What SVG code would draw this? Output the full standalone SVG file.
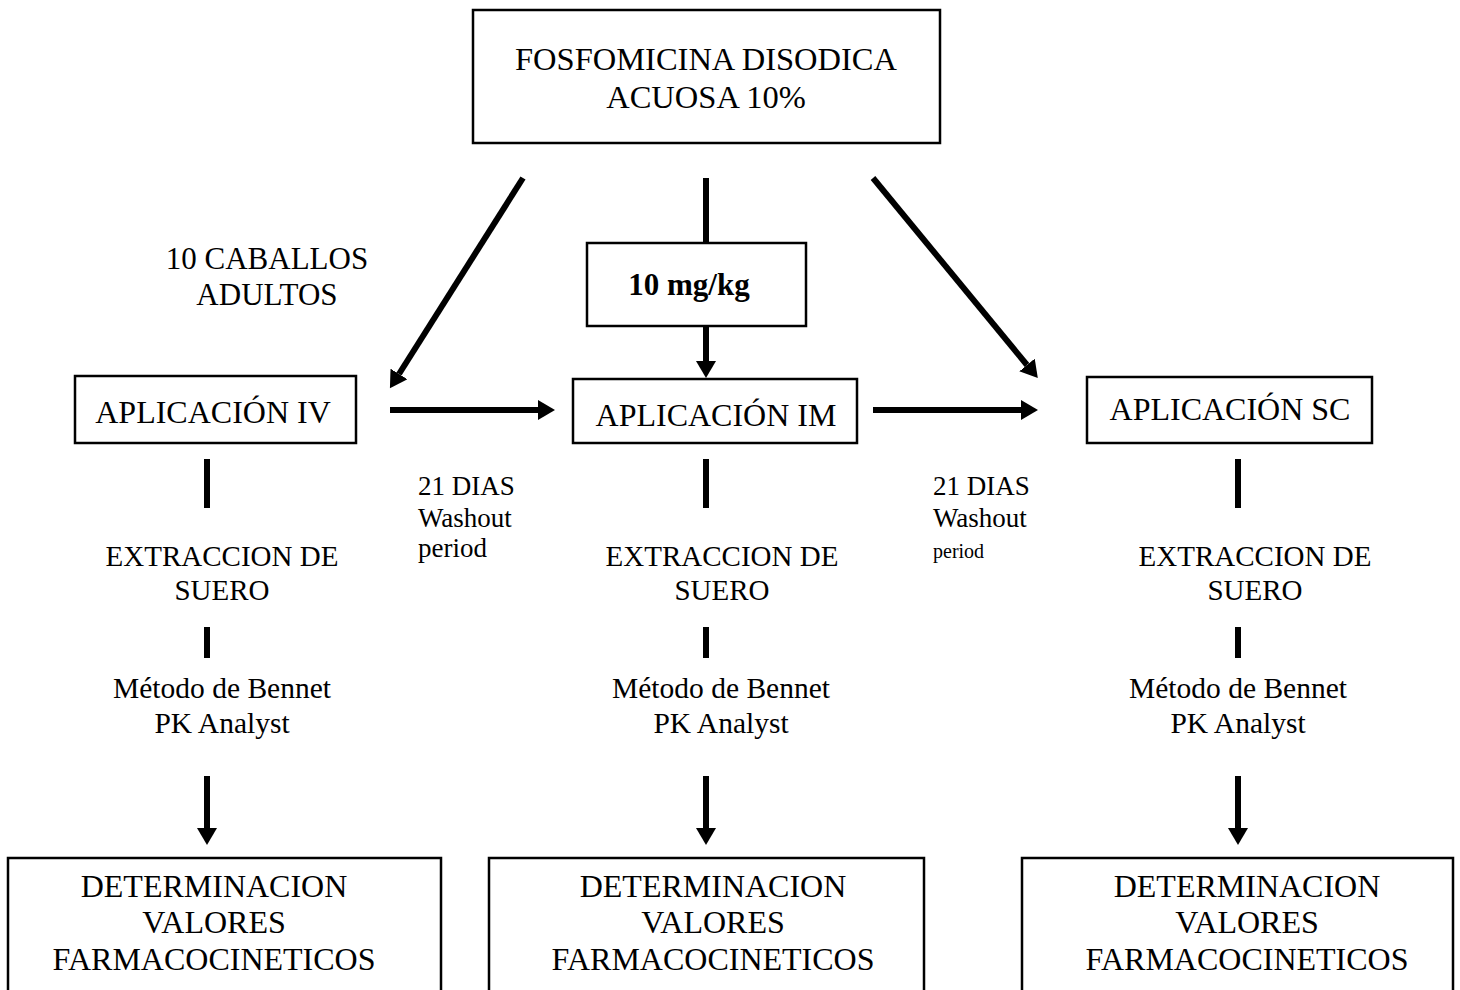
<svg xmlns="http://www.w3.org/2000/svg" width="1460" height="990" viewBox="0 0 1460 990">
<style>
.box{fill:#fff;stroke:#000;stroke-width:2.5}
.t{font-family:"Liberation Serif","Times New Roman",serif;fill:#000;text-anchor:middle}
.l{font-family:"Liberation Serif","Times New Roman",serif;fill:#000}
.c{stroke:#000;stroke-width:6;fill:none}
</style>
<defs>
<marker id="ah" markerUnits="userSpaceOnUse" markerWidth="18" markerHeight="20" refX="0" refY="10" orient="auto">
<path d="M0,0 L17,10 L0,20 z" fill="#000"/>
</marker>
</defs>
<rect width="1460" height="990" fill="#fff"/>

<g id="connectors">
<line class="c" x1="523" y1="178" x2="399" y2="374" marker-end="url(#ah)"/>
<line class="c" x1="873" y1="178" x2="1027" y2="365" marker-end="url(#ah)"/>
<line class="c" x1="706" y1="178" x2="706" y2="243"/>
<line class="c" x1="706" y1="326" x2="706" y2="361" marker-end="url(#ah)"/>
<line class="c" x1="390" y1="410" x2="538" y2="410" marker-end="url(#ah)"/>
<line class="c" x1="873" y1="410" x2="1021" y2="410" marker-end="url(#ah)"/>
<line class="c" x1="207" y1="459" x2="207" y2="508"/>
<line class="c" x1="706" y1="459" x2="706" y2="508"/>
<line class="c" x1="1238" y1="459" x2="1238" y2="508"/>
<line class="c" x1="207" y1="627" x2="207" y2="658"/>
<line class="c" x1="706" y1="627" x2="706" y2="658"/>
<line class="c" x1="1238" y1="627" x2="1238" y2="658"/>
<line class="c" x1="207" y1="776" x2="207" y2="828" marker-end="url(#ah)"/>
<line class="c" x1="706" y1="776" x2="706" y2="828" marker-end="url(#ah)"/>
<line class="c" x1="1238" y1="776" x2="1238" y2="828" marker-end="url(#ah)"/>
</g>

<g id="fosfomicina">
<rect class="box" x="473" y="10" width="467" height="133"/>
<text class="t" x="706" y="70" font-size="32.5">FOSFOMICINA DISODICA</text>
<text class="t" x="706" y="108" font-size="32.5">ACUOSA 10%</text>
</g>

<g id="dosis">
<rect class="box" x="587" y="243" width="219" height="83"/>
<text class="t" x="689" y="295" font-size="31" font-weight="bold">10 mg/kg</text>
</g>

<g id="caballos">
<text class="t" x="267" y="269" font-size="31">10 CABALLOS</text>
<text class="t" x="267" y="305" font-size="31">ADULTOS</text>
</g>

<g id="aplicacion-iv">
<rect class="box" x="75" y="376" width="281" height="67"/>
<text class="t" x="213" y="423" font-size="32">APLICACIÓN IV</text>
</g>

<g id="aplicacion-im">
<rect class="box" x="573" y="379" width="284" height="64"/>
<text class="t" x="716" y="426" font-size="32">APLICACIÓN IM</text>
</g>

<g id="aplicacion-sc">
<rect class="box" x="1087" y="377" width="285" height="66"/>
<text class="t" x="1230" y="420" font-size="32">APLICACIÓN SC</text>
</g>

<g id="washout-1">
<text class="l" x="418" y="495" font-size="27">21 DIAS</text>
<text class="l" x="418" y="527" font-size="27">Washout</text>
<text class="l" x="418" y="557" font-size="27">period</text>
</g>

<g id="washout-2">
<text class="l" x="933" y="495" font-size="27">21 DIAS</text>
<text class="l" x="933" y="527" font-size="27">Washout</text>
<text class="l" x="933" y="558" font-size="20">period</text>
</g>

<g id="extraccion-iv">
<text class="t" x="222" y="566" font-size="29">EXTRACCION DE</text>
<text class="t" x="222" y="600" font-size="29">SUERO</text>
</g>
<g id="extraccion-im">
<text class="t" x="722" y="566" font-size="29">EXTRACCION DE</text>
<text class="t" x="722" y="600" font-size="29">SUERO</text>
</g>
<g id="extraccion-sc">
<text class="t" x="1255" y="566" font-size="29">EXTRACCION DE</text>
<text class="t" x="1255" y="600" font-size="29">SUERO</text>
</g>

<g id="metodo-iv">
<text class="t" x="222" y="698" font-size="29.5">Método de Bennet</text>
<text class="t" x="222" y="733" font-size="29.5">PK Analyst</text>
</g>
<g id="metodo-im">
<text class="t" x="721" y="698" font-size="29.5">Método de Bennet</text>
<text class="t" x="721" y="733" font-size="29.5">PK Analyst</text>
</g>
<g id="metodo-sc">
<text class="t" x="1238" y="698" font-size="29.5">Método de Bennet</text>
<text class="t" x="1238" y="733" font-size="29.5">PK Analyst</text>
</g>

<g id="determinacion-iv">
<rect class="box" x="8" y="858" width="433" height="150"/>
<text class="t" x="214" y="897" font-size="32">DETERMINACION</text>
<text class="t" x="214" y="933" font-size="32">VALORES</text>
<text class="t" x="214" y="970" font-size="32">FARMACOCINETICOS</text>
</g>
<g id="determinacion-im">
<rect class="box" x="489" y="858" width="435" height="150"/>
<text class="t" x="713" y="897" font-size="32">DETERMINACION</text>
<text class="t" x="713" y="933" font-size="32">VALORES</text>
<text class="t" x="713" y="970" font-size="32">FARMACOCINETICOS</text>
</g>
<g id="determinacion-sc">
<rect class="box" x="1022" y="858" width="431" height="150"/>
<text class="t" x="1247" y="897" font-size="32">DETERMINACION</text>
<text class="t" x="1247" y="933" font-size="32">VALORES</text>
<text class="t" x="1247" y="970" font-size="32">FARMACOCINETICOS</text>
</g>
</svg>
